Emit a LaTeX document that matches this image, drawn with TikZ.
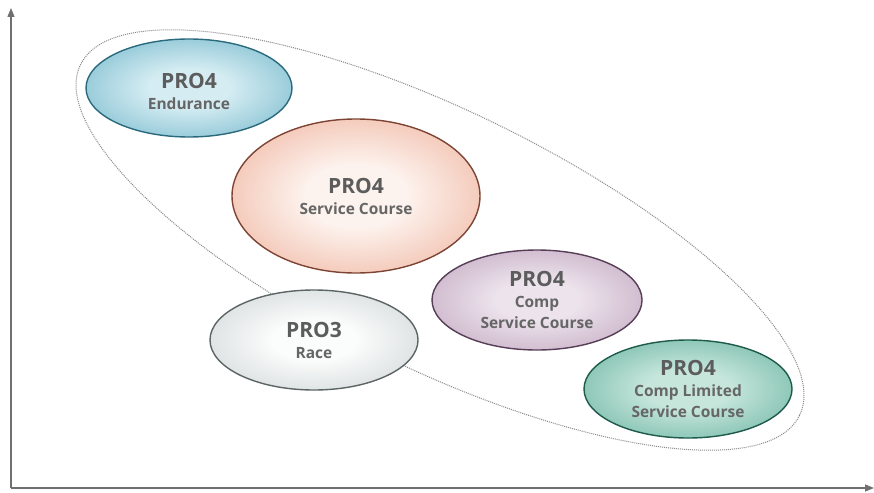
\documentclass[tikz,border=0pt]{standalone}
\usepackage{fontspec}
\setmainfont{Open Sans}
\usetikzlibrary{shapes.geometric,arrows.meta}
\definecolor{txt}{HTML}{5C5C5C}
\definecolor{subtxt}{HTML}{666666}
\definecolor{axis}{HTML}{707070}
\definecolor{dotc}{HTML}{8A8A8A}
% endurance
\definecolor{enIn}{HTML}{D4ECF2}\definecolor{enOut}{HTML}{3A98B4}\definecolor{enBd}{HTML}{2A6A7C}
% service course
\definecolor{scIn}{HTML}{FDF3EE}\definecolor{scOut}{HTML}{E58A6A}\definecolor{scBd}{HTML}{7E4434}
% comp service
\definecolor{cpIn}{HTML}{ECE3EC}\definecolor{cpOut}{HTML}{A67FA2}\definecolor{cpBd}{HTML}{573E57}
% race
\definecolor{rcIn}{HTML}{FBFCFC}\definecolor{rcOut}{HTML}{B2BCBC}\definecolor{rcBd}{HTML}{5C6464}
% comp limited
\definecolor{lmIn}{HTML}{C6E6DC}\definecolor{lmOut}{HTML}{33967C}\definecolor{lmBd}{HTML}{1E5A4A}
\newcommand\mkglow[3]{\pgfdeclareradialshading{#1}{\pgfpointorigin}{color(0bp)=(#2); color(10bp)=(#2); color(50bp)=(#3); color(80bp)=(#3)}}
\mkglow{enShade}{enIn}{enOut}
\mkglow{scShade}{scIn}{scOut}
\mkglow{cpShade}{cpIn}{cpOut}
\mkglow{rcShade}{rcIn}{rcOut}
\mkglow{lmShade}{lmIn}{lmOut}
\tikzset{
  blob/.style={ellipse, inner sep=0pt, line width=1.4pt, align=center, text=subtxt,
    font=\fontsize{15.5}{21}\selectfont\bfseries,
    execute at begin node={\setlength\baselineskip{21pt}}},
  axisline/.style={draw=axis, line width=1.4pt, -{Triangle[length=9pt,width=7pt]}},
}
\newcommand\ttl[1]{{\fontsize{21}{21}\selectfont\bfseries\color{txt}#1}}
\begin{document}
\begin{tikzpicture}[x=1pt,y=-1pt]
\useasboundingbox[fill=white] (0,0) rectangle (874,492);
\coordinate (o) at (11,488);
\coordinate (ytop) at (11,8);
\coordinate (xend) at (874,488);
\draw[axisline] (o) -- (ytop);
\draw[axisline] (o) -- (xend);
\node[draw=dotc, densely dotted, line width=1pt, ellipse, inner sep=0pt,
  minimum width=800pt, minimum height=258pt, rotate=-26] (group) at (440,240) {};
\node[blob, draw=enBd, shading=enShade, minimum width=206pt, minimum height=98pt] (end) at (189,88) {\ttl{\rule{0pt}{23pt}PRO4}\\Endurance};
\node[blob, draw=scBd, shading=scShade, minimum width=248pt, minimum height=154pt] (svc) at (356,196) {\ttl{PRO4}\\Service Course};
\node[blob, draw=cpBd, shading=cpShade, minimum width=210pt, minimum height=100pt] (comp) at (537,300) {\ttl{PRO4}\\Comp\\Service Course};
\node[blob, draw=rcBd, shading=rcShade, minimum width=208pt, minimum height=100pt] (race) at (314,340) {\ttl{PRO3}\\Race};
\node[blob, draw=lmBd, shading=lmShade, minimum width=208pt, minimum height=98pt] (lim) at (688,389) {\ttl{PRO4}\\Comp Limited\\Service Course};
\end{tikzpicture}
\end{document}
